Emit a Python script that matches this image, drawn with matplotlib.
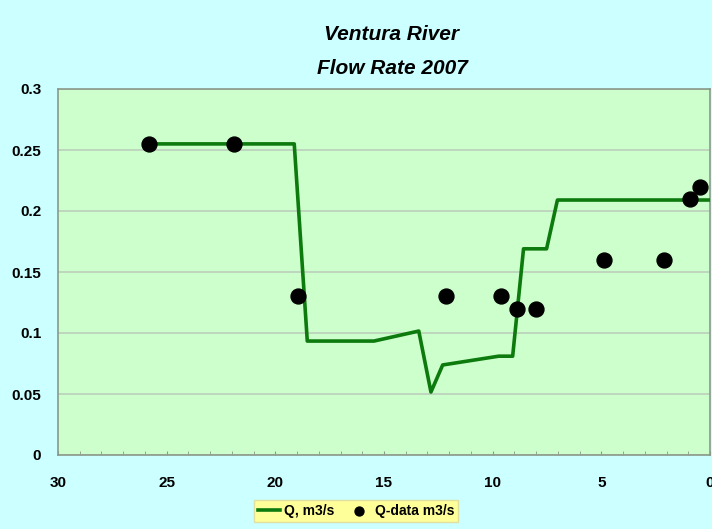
import matplotlib
matplotlib.use("Agg")
import matplotlib.pyplot as plt
from matplotlib.ticker import MultipleLocator, FuncFormatter

# Model line (Q, m3/s)
q_x = [25.83, 21.9, 19.13, 18.53, 15.46, 13.4, 12.84, 12.3, 9.72, 9.08, 8.58, 7.52, 7.02, 0.0]
q_y = [0.255, 0.255, 0.255, 0.0934, 0.0934, 0.1016, 0.0516, 0.0738, 0.081, 0.081, 0.169, 0.169, 0.209, 0.209]

# Measured data (Q-data m3/s)
d_x = [25.83, 21.9, 18.94, 12.16, 9.63, 8.9, 8.0, 4.86, 2.1, 0.92, 0.46]
d_y = [0.255, 0.255, 0.13, 0.13, 0.13, 0.12, 0.12, 0.16, 0.16, 0.21, 0.22]

title_lines = ["Ventura River", "Flow Rate 2007"]
x_ticks = [30, 25, 20, 15, 10, 5, 0]
y_ticks = [0, 0.05, 0.1, 0.15, 0.2, 0.25, 0.3]

plt.rcParams['font.family'] = ['Liberation Sans', 'DejaVu Sans']

W, H = 712, 529
fig = plt.figure(figsize=(W / 100, H / 100), dpi=100)
fig.patch.set_facecolor('#ccffff')

left, right, top, bottom = 58, 710, 89, 455
ax = fig.add_axes([left / W, 1 - bottom / H, (right - left) / W, (bottom - top) / H])
ax.set_facecolor('#ccffcc')

ax.plot(q_x, q_y, color='#0d7a0d', lw=2.6, label='Q, m3/s', zorder=3)
ax.scatter(d_x, d_y, s=115, color='black', label='Q-data m3/s', zorder=4)

ax.set_xlim(30, 0)
ax.set_ylim(0, 0.3)
ax.set_xticks(x_ticks)
ax.set_yticks(y_ticks)
ax.xaxis.set_minor_locator(MultipleLocator(1))
ax.yaxis.set_major_formatter(FuncFormatter(lambda v, p: ('%g' % round(v, 2))))
ax.grid(axis='y', color='#bccdbc', lw=1.2, zorder=1)
ax.set_axisbelow(True)

for s in ['left', 'bottom', 'top', 'right']:
    ax.spines[s].set_color('#8a9a8a')
    ax.spines[s].set_linewidth(1.2)

ax.tick_params(axis='x', which='both', direction='in', length=3, color='#8a9a8a',
               labelsize=11, pad=15)
ax.tick_params(axis='y', which='both', length=0, labelsize=11, pad=12)
for lab in ax.get_xticklabels() + ax.get_yticklabels():
    lab.set_fontweight('bold')

fig.text(392 / W, 1 - 35 / H, title_lines[0], ha='center', va='center',
         fontsize=15, fontweight='bold', style='italic')
fig.text(392 / W, 1 - 68 / H, title_lines[1], ha='center', va='center',
         fontsize=15, fontweight='bold', style='italic')

leg = fig.legend(loc='center', bbox_to_anchor=(356 / W, 1 - 511 / H), ncol=2,
                 frameon=True, fancybox=False, fontsize=10, handlelength=1.6,
                 handletextpad=0.3, columnspacing=1.0, borderpad=0.3,
                 markerscale=0.6)
leg.get_frame().set_facecolor('#ffff99')
leg.get_frame().set_edgecolor('#e0e0a0')
leg.get_frame().set_alpha(1)
for t in leg.get_texts():
    t.set_fontweight('bold')

fig.savefig('out.png', dpi=100, facecolor=fig.get_facecolor())
